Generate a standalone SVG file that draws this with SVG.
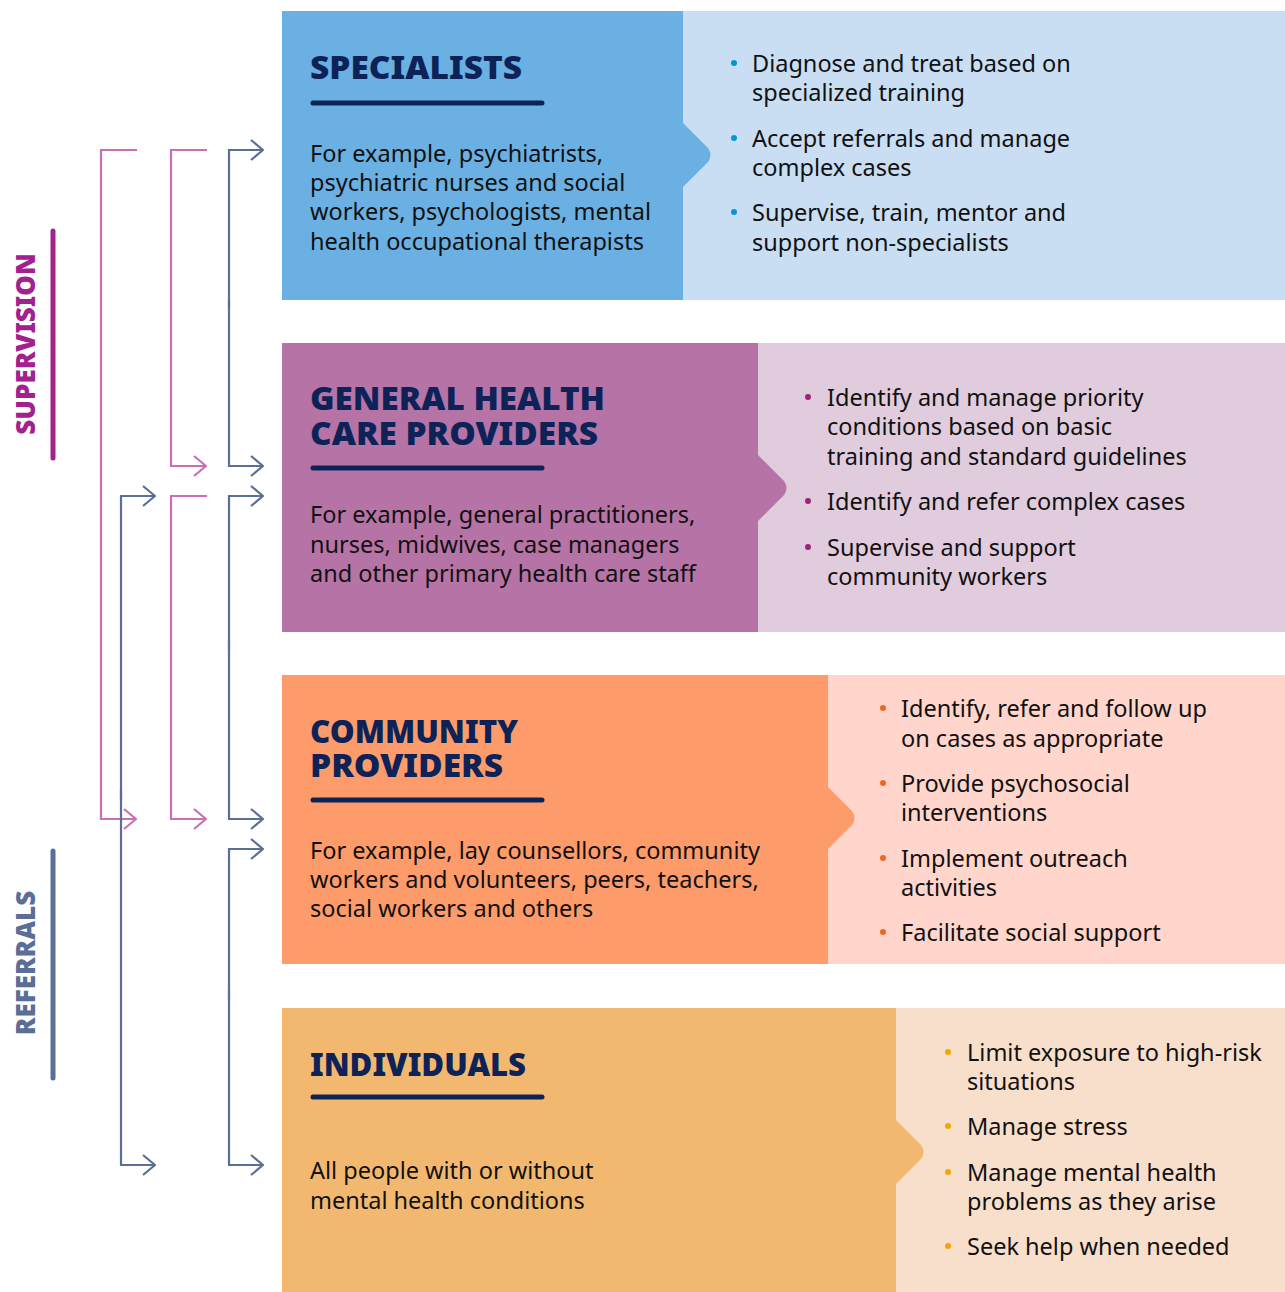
<svg xmlns="http://www.w3.org/2000/svg" width="1285" height="1292" viewBox="0 0 1285 1292">
<style>
.t{font-family:"Noto Sans","Liberation Sans",sans-serif;font-size:23.5px;fill:#111;}
.h{font-family:"Noto Sans","Liberation Sans",sans-serif;font-size:31.5px;font-weight:900;fill:#0D2358;}
.ul{stroke:#0D2358;stroke-width:5;stroke-linecap:round;}
.pk{fill:none;stroke:#C86FB8;stroke-width:2.2;}
.bl{fill:none;stroke:#5A6E98;stroke-width:2.2;}
.lab{font-family:"Noto Sans","Liberation Sans",sans-serif;font-size:26px;font-weight:900;}
</style>
<defs>
<marker id="ap" viewBox="0 0 14 22" refX="13" refY="11" markerWidth="14" markerHeight="22" markerUnits="userSpaceOnUse" orient="auto"><path d="M1,1 L13,11 L1,21" fill="none" stroke="#C86FB8" stroke-width="2.2"/></marker>
<marker id="ab" viewBox="0 0 14 22" refX="13" refY="11" markerWidth="14" markerHeight="22" markerUnits="userSpaceOnUse" orient="auto"><path d="M1,1 L13,11 L1,21" fill="none" stroke="#5A6E98" stroke-width="2.2"/></marker>
</defs>
<rect width="1285" height="1292" fill="#fff"/>

<g id="specialists">
<rect x="683" y="11" width="602" height="289" fill="#C9DEF2"/>
<path d="M282,11 H683 V123 L708,148 Q713,155 708,162 L683,187 V300 H282 Z" fill="#6AB0E2"/>
<text class="h" x="310" y="79" textLength="212" lengthAdjust="spacingAndGlyphs">SPECIALISTS</text>
<line class="ul" x1="313" y1="103" x2="542" y2="103"/>
<text class="t"><tspan x="310" y="162">For example, psychiatrists,</tspan><tspan x="310" y="191">psychiatric nurses and social</tspan><tspan x="310" y="220">workers, psychologists, mental</tspan><tspan x="310" y="250">health occupational therapists</tspan></text>
<g fill="#0097DB"><circle cx="734" cy="63" r="3"/><circle cx="734" cy="138" r="3"/><circle cx="734" cy="212" r="3"/></g>
<text class="t"><tspan x="752" y="72">Diagnose and treat based on</tspan><tspan x="752" y="101">specialized training</tspan><tspan x="752" y="147">Accept referrals and manage</tspan><tspan x="752" y="176">complex cases</tspan><tspan x="752" y="221">Supervise, train, mentor and</tspan><tspan x="752" y="251">support non-specialists</tspan></text>
</g>

<g id="general">
<rect x="758" y="343" width="527" height="289" fill="#E0CCDD"/>
<path d="M282,343 H758 V455 L784,481 Q789,488 784,495 L758,521 V632 H282 Z" fill="#B674A6"/>
<text class="h" x="310" y="410" textLength="295" lengthAdjust="spacingAndGlyphs">GENERAL HEALTH</text>
<text class="h" x="310" y="445" textLength="288" lengthAdjust="spacingAndGlyphs">CARE PROVIDERS</text>
<line class="ul" x1="313" y1="468" x2="542" y2="468"/>
<text class="t"><tspan x="310" y="523">For example, general practitioners,</tspan><tspan x="310" y="553">nurses, midwives, case managers</tspan><tspan x="310" y="582">and other primary health care staff</tspan></text>
<g fill="#A0207E"><circle cx="808" cy="397" r="3"/><circle cx="808" cy="501" r="3"/><circle cx="808" cy="547" r="3"/></g>
<text class="t"><tspan x="827" y="406">Identify and manage priority</tspan><tspan x="827" y="435">conditions based on basic</tspan><tspan x="827" y="465">training and standard guidelines</tspan><tspan x="827" y="510">Identify and refer complex cases</tspan><tspan x="827" y="556">Supervise and support</tspan><tspan x="827" y="585">community workers</tspan></text>
</g>

<g id="community">
<rect x="828" y="675" width="457" height="289" fill="#FFD5CC"/>
<path d="M282,675 H828 V787 L852,811 Q857,818 852,825 L828,849 V964 H282 Z" fill="#FE9B6B"/>
<text class="h" x="310" y="743" textLength="208" lengthAdjust="spacingAndGlyphs">COMMUNITY</text>
<text class="h" x="310" y="777" textLength="193" lengthAdjust="spacingAndGlyphs">PROVIDERS</text>
<line class="ul" x1="313" y1="800" x2="542" y2="800"/>
<text class="t"><tspan x="310" y="859">For example, lay counsellors, community</tspan><tspan x="310" y="888">workers and volunteers, peers, teachers,</tspan><tspan x="310" y="917">social workers and others</tspan></text>
<g fill="#F26522"><circle cx="883" cy="708" r="3"/><circle cx="883" cy="783" r="3"/><circle cx="883" cy="858" r="3"/><circle cx="883" cy="932" r="3"/></g>
<text class="t"><tspan x="901" y="717">Identify, refer and follow up</tspan><tspan x="901" y="747">on cases as appropriate</tspan><tspan x="901" y="792">Provide psychosocial</tspan><tspan x="901" y="821">interventions</tspan><tspan x="901" y="867">Implement outreach</tspan><tspan x="901" y="896">activities</tspan><tspan x="901" y="941">Facilitate social support</tspan></text>
</g>

<g id="individuals">
<rect x="896" y="1008" width="389" height="284" fill="#F8DFCC"/>
<path d="M282,1008 H896 V1120 L921,1145 Q926,1152 921,1159 L896,1184 V1292 H282 Z" fill="#F3B86F"/>
<text class="h" x="310" y="1076" textLength="216" lengthAdjust="spacingAndGlyphs">INDIVIDUALS</text>
<line class="ul" x1="313" y1="1097" x2="542" y2="1097"/>
<text class="t"><tspan x="310" y="1179">All people with or without</tspan><tspan x="310" y="1209">mental health conditions</tspan></text>
<g fill="#F5A500"><circle cx="948" cy="1052" r="3"/><circle cx="948" cy="1126" r="3"/><circle cx="948" cy="1172" r="3"/><circle cx="948" cy="1246" r="3"/></g>
<text class="t"><tspan x="967" y="1061">Limit exposure to high-risk</tspan><tspan x="967" y="1090">situations</tspan><tspan x="967" y="1135">Manage stress</tspan><tspan x="967" y="1181">Manage mental health</tspan><tspan x="967" y="1210">problems as they arise</tspan><tspan x="967" y="1255">Seek help when needed</tspan></text>
</g>

<g id="supervision-label">
<line x1="53" y1="231" x2="53" y2="458" stroke="#A3218E" stroke-width="5" stroke-linecap="round"/>
<text class="lab" fill="#A3218E" text-anchor="middle" transform="translate(35,344) rotate(-90)">SUPERVISION</text>
</g>
<g id="referrals-label">
<line x1="53" y1="851" x2="53" y2="1078" stroke="#5A6E98" stroke-width="5" stroke-linecap="round"/>
<text class="lab" fill="#5A6E98" text-anchor="middle" transform="translate(35,963) rotate(-90)">REFERRALS</text>
</g>

<g id="connectors">
<path class="pk" d="M137,150 H101 V819 H136" marker-end="url(#ap)"/>
<path class="pk" d="M207,150 H171 V466 H206" marker-end="url(#ap)"/>
<path class="pk" d="M207,496 H171 V819 H206" marker-end="url(#ap)"/>
<path class="bl" d="M229,308 V150 H263" marker-end="url(#ab)"/>
<path class="bl" d="M229,300 V466 H263" marker-end="url(#ab)"/>
<path class="bl" d="M229,650 V496 H263" marker-end="url(#ab)"/>
<path class="bl" d="M229,640 V819 H263" marker-end="url(#ab)"/>
<path class="bl" d="M229,1000 V849 H263" marker-end="url(#ab)"/>
<path class="bl" d="M229,990 V1165 H263" marker-end="url(#ab)"/>
<path class="bl" d="M121,800 V496 H155" marker-end="url(#ab)"/>
<path class="bl" d="M121,790 V1165 H155" marker-end="url(#ab)"/>
</g>
</svg>
